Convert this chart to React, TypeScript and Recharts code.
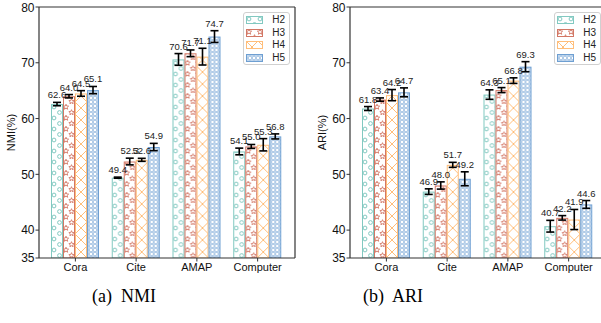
import React from 'react'
import { BarChart, Bar, XAxis, YAxis, ErrorBar, LabelList, Legend, Label } from 'recharts'

// groups and series
const categories = ['Cora', 'Cite', 'AMAP', 'Computer']
const seriesNames = ['H2', 'H3', 'H4', 'H5']
const yTicks = [35, 40, 50, 60, 70, 80]

// NMI (%) means and std, one entry per category
const nmiH2 = [62.6, 49.4, 70.6, 54.1]
const nmiH3 = [64.0, 52.3, 71.7, 55.0]
const nmiH4 = [64.5, 52.6, 71.1, 55.3]
const nmiH5 = [65.1, 54.9, 74.7, 56.8]
const nmiH2Std = [0.3, 0.1, 1.05, 0.6]
const nmiH3Std = [0.3, 0.6, 0.6, 0.35]
const nmiH4Std = [0.5, 0.27, 1.5, 1.1]
const nmiH5Std = [0.65, 0.65, 1.05, 0.45]

// ARI (%) means and std
const ariH2 = [61.8, 46.9, 64.3, 40.7]
const ariH3 = [63.4, 48.0, 65.1, 42.2]
const ariH4 = [64.2, 51.7, 66.8, 41.9]
const ariH5 = [64.7, 49.2, 69.3, 44.6]
const ariH2Std = [0.35, 0.5, 0.85, 1.05]
const ariH3Std = [0.3, 0.65, 0.45, 0.4]
const ariH4Std = [1.0, 0.45, 0.5, 1.8]
const ariH5Std = [0.8, 1.25, 0.9, 0.7]

const colors: Record<string, string> = { H2: '#82c9c1', H3: '#d27765', H4: '#ffbe7a', H5: '#6e9fd2' }
const FONT = '"Liberation Sans", Arial, sans-serif'
const AX = '#333'

const buildRows = (vals: number[][], errs: number[][]) =>
  categories.map((name, i) => {
    const row: any = { name }
    seriesNames.forEach((s, k) => {
      row[s] = vals[k][i]
      row[s + 'e'] = errs[k][i]
    })
    return row
  })

const nmiData = buildRows([nmiH2, nmiH3, nmiH4, nmiH5], [nmiH2Std, nmiH3Std, nmiH4Std, nmiH5Std])
const ariData = buildRows([ariH2, ariH3, ariH4, ariH5], [ariH2Std, ariH3Std, ariH4Std, ariH5Std])

const star = (cx: number, cy: number, r: number) => {
  const pts: string[] = []
  for (let i = 0; i < 10; i++) {
    const rr = i % 2 === 0 ? r : r * 0.45
    const a = -Math.PI / 2 + (i * Math.PI) / 5
    pts.push(`${(cx + rr * Math.cos(a)).toFixed(2)},${(cy + rr * Math.sin(a)).toFixed(2)}`)
  }
  return 'M' + pts.join('L') + 'Z'
}

// hatch tile for each series
function Hatch({ id, kind, x = 0, y = 0 }: { id: string; kind: string; x?: number; y?: number }) {
  const c = colors[kind]
  if (kind === 'H2') {
    return (
      <pattern id={id} patternUnits="userSpaceOnUse" x={x} y={y} width={11} height={11}>
        <rect width={11} height={11} fill="#fff" />
        <circle cx={3} cy={3} r={1.9} fill="none" stroke={c} strokeWidth={1} />
        <circle cx={8.5} cy={8.5} r={1.9} fill="none" stroke={c} strokeWidth={1} />
      </pattern>
    )
  }
  if (kind === 'H3') {
    return (
      <pattern id={id} patternUnits="userSpaceOnUse" x={x} y={y} width={11} height={11}>
        <rect width={11} height={11} fill="#fff" />
        <path d={star(3, 3, 2.8)} fill="none" stroke={c} strokeWidth={0.9} />
        <path d={star(8.5, 8.5, 2.8)} fill="none" stroke={c} strokeWidth={0.9} />
      </pattern>
    )
  }
  if (kind === 'H4') {
    return (
      <pattern id={id} patternUnits="userSpaceOnUse" x={x} y={y} width={12} height={12}>
        <rect width={12} height={12} fill="#fff" />
        <path d="M0,0L12,12M12,0L0,12" stroke={c} strokeWidth={1} />
      </pattern>
    )
  }
  return (
    <pattern id={id} patternUnits="userSpaceOnUse" x={x} y={y} width={4} height={4}>
      <rect width={4} height={4} fill="#fff" />
      <circle cx={2} cy={2} r={1.35} fill="none" stroke={c} strokeWidth={0.8} />
    </pattern>
  )
}

function HatchBar(props: any) {
  const { x, y, width, height, kind, uid, index } = props
  if (!height || height <= 0) return null
  const id = `${uid}-${kind}-${index}`
  return (
    <g>
      <defs>
        <Hatch id={id} kind={kind} x={x} y={y + height} />
      </defs>
      <rect x={x + 0.5} y={y + 0.5} width={width - 1} height={height - 0.5} fill={`url(#${id})`} stroke={colors[kind]} strokeWidth={1} />
    </g>
  )
}

const valueLabel = (errs: number[]) => (props: any) => {
  const { x, y, width, height, value, index } = props
  const perUnit = height / (value - 35)
  const top = y - errs[index] * perUnit
  return (
    <text x={x + width / 2} y={top - 4} textAnchor="middle" fontSize={9.5} fontFamily={FONT} fill="#222">
      {Number(value).toFixed(1)}
    </text>
  )
}

function LegendBox({ uid }: { uid: string }) {
  return (
    <div style={{ border: '1px solid #d0d0d0', borderRadius: 3, background: 'rgba(255,255,255,0.8)', padding: '1px 4px 0 2px', width: 39 }}>
      {seriesNames.map((s) => (
        <div key={s} style={{ display: 'flex', alignItems: 'center', height: 12.5 }}>
          <svg width={18} height={8} style={{ display: 'block' }}>
            <defs>
              <Hatch id={`leg-${uid}-${s}`} kind={s} x={0} y={0} />
            </defs>
            <rect x={0.5} y={0.5} width={16} height={7} fill={`url(#leg-${uid}-${s})`} stroke={colors[s]} />
          </svg>
          <span style={{ marginLeft: 9, fontSize: 10, fontFamily: FONT, color: '#222', lineHeight: '12px' }}>{s}</span>
        </div>
      ))}
    </div>
  )
}

function Panel({ data, yLabel, uid, errs }: { data: any[]; yLabel: string; uid: string; errs: number[][] }) {
  return (
    <BarChart width={300} height={280} data={data} margin={{ top: 6, right: 4, bottom: 0, left: 9 }} barSize={12} barGap={0}>
      <XAxis
        dataKey="name"
        interval={0}
        height={22}
        padding={{ left: 6, right: 7 }}
        tickSize={3.5}
        tickMargin={2}
        axisLine={{ stroke: AX, strokeWidth: 1.2 }}
        tickLine={{ stroke: AX }}
        tick={{ fill: '#111', fontSize: 11, fontFamily: FONT }}
      />
      <XAxis xAxisId="top" orientation="top" dataKey="name" height={1} tick={false} tickLine={false} axisLine={{ stroke: AX, strokeWidth: 1.2 }} />
      <YAxis
        domain={[35, 80]}
        ticks={yTicks}
        allowDataOverflow
        width={30}
        tickSize={3.5}
        tickMargin={1}
        axisLine={{ stroke: AX, strokeWidth: 1.2 }}
        tickLine={{ stroke: AX }}
        tick={{ fill: '#111', fontSize: 12, fontFamily: FONT }}
      >
        <Label value={yLabel} angle={-90} position="insideLeft" offset={2} style={{ textAnchor: 'middle', fontSize: 11, fontFamily: FONT, fill: '#111' }} />
      </YAxis>
      <YAxis yAxisId="right" orientation="right" domain={[0, 1]} width={1} tick={false} tickLine={false} axisLine={{ stroke: AX, strokeWidth: 1.2 }} />
      {seriesNames.map((s, k) => (
        <Bar key={s} dataKey={s} isAnimationActive={false} shape={(p: any) => <HatchBar {...p} kind={s} uid={uid} />}>
          <ErrorBar dataKey={s + 'e'} width={4} strokeWidth={1.6} stroke="#000" direction="y" />
          <LabelList dataKey={s} content={valueLabel(errs[k])} />
        </Bar>
      ))}
      <Legend
        layout="vertical"
        verticalAlign="top"
        align="right"
        content={() => <LegendBox uid={uid} />}
        wrapperStyle={{ position: 'absolute', top: 12, left: 243, width: 0, height: 0, overflow: 'visible' }}
      />
    </BarChart>
  )
}

export default function App() {
  return (
    <div style={{ position: 'absolute', left: 0, top: 0, width: 601, height: 323, overflow: 'hidden', background: '#fff' }}>
      <div style={{ position: 'absolute', left: 0, top: 0 }}>
        <Panel data={nmiData} yLabel="NMI(%)" uid="nmi" errs={[nmiH2Std, nmiH3Std, nmiH4Std, nmiH5Std]} />
      </div>
      <div style={{ position: 'absolute', left: 311, top: 0 }}>
        <Panel data={ariData} yLabel="ARI(%)" uid="ari" errs={[ariH2Std, ariH3Std, ariH4Std, ariH5Std]} />
      </div>
      <div style={{ position: 'absolute', left: 92, top: 286, fontFamily: '"Liberation Serif", "Times New Roman", serif', fontSize: 18, whiteSpace: 'nowrap' }}>
        (a)&nbsp; NMI
      </div>
      <div style={{ position: 'absolute', left: 363, top: 286, fontFamily: '"Liberation Serif", "Times New Roman", serif', fontSize: 18, whiteSpace: 'nowrap' }}>
        (b)&nbsp; ARI
      </div>
    </div>
  )
}
